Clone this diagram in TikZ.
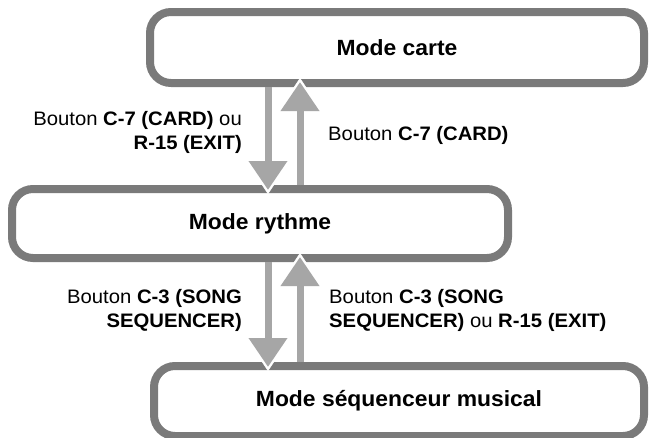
\documentclass[tikz,border=0pt]{standalone}
\usepackage{fontspec}
\setmainfont{Liberation Sans}[FakeStretch=1.04]
\usetikzlibrary{arrows.meta}

\definecolor{rimgray}{RGB}{122,122,122}
\definecolor{flowgray}{RGB}{166,166,166}

\begin{document}
\begin{tikzpicture}[x=1pt,y=-1pt,
    mode/.style={draw=rimgray, line width=8pt, rounded corners=21pt,
      font=\fontsize{22}{24}\selectfont\bfseries},
    flow/.style={draw=flowgray, line width=7pt,
      -{Triangle[width=37pt,length=29pt]}, shorten >=-5pt,
      preaction={draw=white, line width=0.4pt,
        -{Triangle[width=47pt,length=35pt]}, shorten >=-9pt}}]
  \useasboundingbox (0,0) rectangle (651,437);

  % the three modes
  \node[mode, minimum width=494pt, minimum height=71pt] (carte) at (397,47.5) {Mode carte};
  \node[mode, minimum width=496pt, minimum height=69pt] (rythme) at (260,223.5) {Mode rythme};
  \node[mode, minimum width=490pt, minimum height=70pt] (sequenceur) at (399,401) {Mode séquenceur musical};

  % lanes for the down and up arrows
  \coordinate (down) at (268,0);
  \coordinate (up) at (300,0);

  \begin{scope}[every edge/.style={flow}]
    \path (down |- carte.south) edge (down |- rythme.north);
    \path (up |- rythme.north) edge (up |- carte.south);
    \path (down |- rythme.south) edge (down |- sequenceur.north);
    \path (up |- sequenceur.north) edge (up |- rythme.south);
  \end{scope}

  \begin{scope}[every node/.style={inner sep=0pt, font=\fontsize{19.5}{23.5}\selectfont}]
    \node[anchor=north east, align=right] (toRythme) at (242,111.5)
      {Bouton \textbf{C-7 (CARD)} ou\\\textbf{R-15 (EXIT)}};
    \node[anchor=north west, align=left] (toCarte) at (328,126.5)
      {Bouton \textbf{C-7 (CARD)}};
    \node[anchor=north east, align=right] (toSequenceur) at (242,289.5)
      {Bouton \textbf{C-3 (SONG}\\\textbf{SEQUENCER)}};
    \node[anchor=north west, align=left] (backRythme) at (329,289.5)
      {Bouton \textbf{C-3 (SONG}\\\textbf{SEQUENCER)} ou \textbf{R-15 (EXIT)}};
  \end{scope}
\end{tikzpicture}
\end{document}
